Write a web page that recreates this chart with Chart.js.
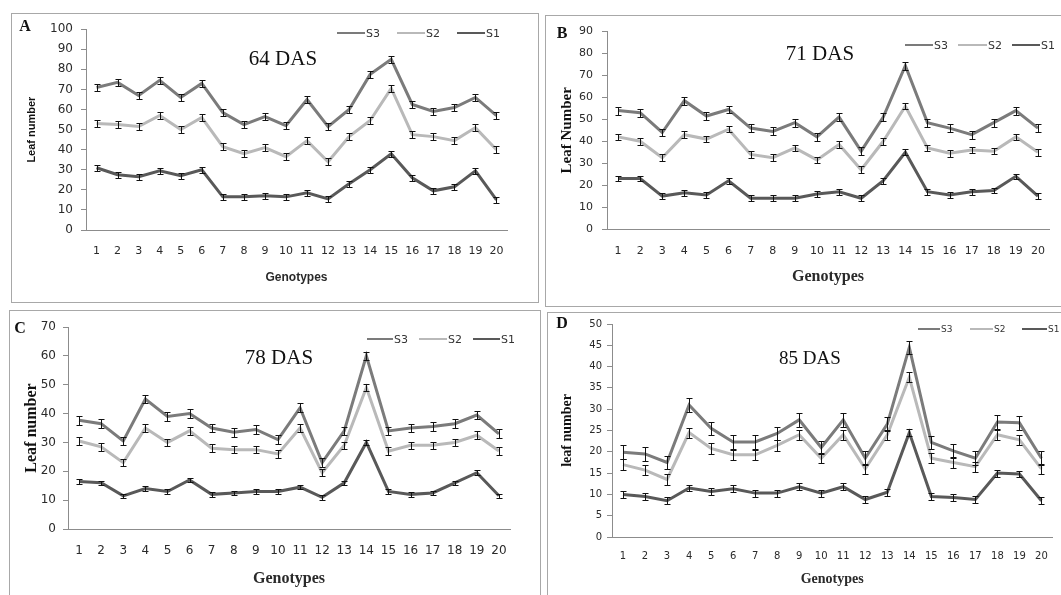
<!DOCTYPE html>
<html>
<head>
<meta charset="utf-8">
<script src="https://cdn.jsdelivr.net/npm/chart.js@4.4.1/dist/chart.umd.min.js"></script>
<style>
  body { margin: 0; width: 1061px; height: 595px; overflow: hidden; position: relative; background: #fff; }
  .frame { position: absolute; border: 1.5px solid #a8a8a8; box-sizing: border-box; }
  canvas.plot { position: absolute; }
  .letter { position: absolute; font: bold 16px "Liberation Serif", serif; color: #111; transform: translate(-50%, -50%); }
  .das { position: absolute; font: 21px "Liberation Serif", serif; color: #111; transform: translate(-50%, -50%); white-space: nowrap; }
  .lg-line { position: absolute; height: 2px; }
  .lg-text { position: absolute; font: 11px "DejaVu Sans", sans-serif; color: #333; transform: translateY(-50%); }
</style>
</head>
<body>
<script>
"use strict";

// ── Data ──────────────────────────────────────────────────────────────────────
const genotypes   = ["1","2","3","4","5","6","7","8","9","10","11","12","13","14","15","16","17","18","19","20"];
const seriesNames = ["S3", "S2", "S1"];

// A — 64 DAS
const das64S3  = [71, 73.5, 67, 74.5, 66, 73, 58.5, 52.5, 56.5, 52, 65, 51.5, 60, 77.5, 85, 62.5, 59, 61, 66, 57];
const das64S2  = [53, 52.5, 51.5, 57, 50, 56, 41.5, 38, 41, 36.5, 44.5, 34, 46.5, 54.5, 70.5, 47.5, 46.5, 44.5, 51, 40];
const das64S1  = [31, 27.5, 26.5, 29.5, 27, 30, 16.5, 16.5, 17, 16.5, 18.5, 15.5, 23, 30, 38, 26, 19.5, 21.5, 29.5, 15];
const das64Err = [1.8, 1.8, 1.4];

// B — 71 DAS
const das71S3  = [54, 53, 44, 58.5, 51.5, 54.5, 46, 44.5, 48.5, 42, 51, 35.5, 51, 74.5, 48.5, 46, 43, 48.5, 54, 46];
const das71S2  = [42, 40, 32.5, 43, 41, 45.5, 34, 32.5, 37, 31.5, 38.5, 27, 40, 56, 37, 34.5, 36, 35.5, 42, 35];
const das71S1  = [23, 23, 15, 16.5, 15.5, 22, 14, 14, 14, 16, 17, 14, 22, 35, 17, 15.5, 17, 17.5, 24, 15];
const das71Err = [1.8, 1.5, 1.3];

// C — 78 DAS
const das78S3  = [37.7, 36.5, 30.5, 45, 39, 40, 35, 33.5, 34.5, 31, 42, 23, 34, 60, 34, 35, 35.5, 36.5, 39.5, 33];
const das78S2  = [30.5, 28.5, 23, 35, 30, 34, 28, 27.5, 27.5, 26, 35, 19.5, 29, 49, 27, 29, 29, 30, 32.5, 27];
const das78S1  = [16.5, 16, 11.5, 14, 13, 17, 12, 12.5, 13, 13, 14.5, 11, 16, 30, 13, 12, 12.5, 16, 19.5, 11.5];
const das78Err = [1.5, 1.3, 0.8];

// D — 85 DAS
const das85S3  = [19.9, 19.5, 17.5, 31, 25.5, 22.3, 22.3, 24.3, 27.5, 21, 27.5, 18.5, 26.5, 44.5, 22.2, 20.2, 18.5, 27, 26.8, 18.5];
const das85S2  = [17, 15.7, 13.5, 24.5, 20.8, 19.3, 19.3, 21.5, 24, 18.5, 24, 16, 24, 37.5, 18.5, 17.5, 16.5, 24, 22.8, 16];
const das85S1  = [10, 9.5, 8.5, 11.5, 10.7, 11.3, 10.3, 10.3, 11.8, 10.3, 11.8, 8.8, 10.5, 24.5, 9.5, 9.3, 8.8, 15, 14.8, 8.5];
const das85Err = [1.6, 1.2, 0.8];

// ── Styles ────────────────────────────────────────────────────────────────────
const lineColors = ["#7b7b7b", "#b9b9b9", "#595959"];
const axisColor  = "#8c8c8c";
const textColor  = "#2a2a2a";

// ── Panel layout (page pixels) ────────────────────────────────────────────────
const panels = [
  {
    letter: "A", title: "64 DAS", series: [das64S3, das64S2, das64S1], err: das64Err,
    frame:  { l: 11, t: 13, w: 528, h: 290 },
    canvas: { l: 12, t: 14, w: 525, h: 287 },
    area:   { l: 86, t: 28, r: 507, b: 230 },
    yMax: 100, yStep: 10,
    yTitle: { text: "Leaf number", font: { family: "'Liberation Sans', sans-serif", size: 11, weight: "bold" }, pad: 13 },
    xTitle: { font: { family: "'Liberation Sans', sans-serif", size: 12, weight: "bold" }, pad: 16 },
    yTick: { size: 12, pad: 8 }, xTick: { size: 11, pad: 15 },
    letterPos: [25, 26], titlePos: [283, 58], titleSize: 21,
    legend: { y: 33, items: [[337, 365], [397, 425], [457, 485]], size: 11 },
  },
  {
    letter: "B", title: "71 DAS", series: [das71S3, das71S2, das71S1], err: das71Err,
    frame:  { l: 545, t: 15, w: 520, h: 292 },
    canvas: { l: 546, t: 16, w: 515, h: 289 },
    area:   { l: 607, t: 30, r: 1059, b: 229 },
    yMax: 90, yStep: 10,
    yTitle: { text: "Leaf Number", font: { family: "'Liberation Serif', serif", size: 15, weight: "bold" }, pad: 12 },
    xTitle: { font: { family: "'Liberation Serif', serif", size: 16, weight: "bold" }, pad: 19 },
    yTick: { size: 11, pad: 9 }, xTick: { size: 11, pad: 16 },
    letterPos: [562, 33], titlePos: [820, 53], titleSize: 21,
    legend: { y: 45, items: [[905, 933], [958, 987], [1012, 1040]], size: 11 },
  },
  {
    letter: "C", title: "78 DAS", series: [das78S3, das78S2, das78S1], err: das78Err,
    frame:  { l: 9, t: 310, w: 532, h: 290 },
    canvas: { l: 10, t: 311, w: 529, h: 284 },
    area:   { l: 68, t: 327, r: 510, b: 529 },
    yMax: 70, yStep: 10,
    yTitle: { text: "Leaf number", font: { family: "'Liberation Serif', serif", size: 16, weight: "bold" }, pad: 12 },
    xTitle: { font: { family: "'Liberation Serif', serif", size: 16, weight: "bold" }, pad: 7 },
    yTick: { size: 12, pad: 7 }, xTick: { size: 12, pad: 15 },
    letterPos: [20, 328], titlePos: [279, 357], titleSize: 21,
    legend: { y: 339, items: [[367, 393], [419, 447], [473, 500]], size: 11 },
  },
  {
    letter: "D", title: "85 DAS", series: [das85S3, das85S2, das85S1], err: das85Err,
    frame:  { l: 547, t: 312, w: 520, h: 290 },
    canvas: { l: 548, t: 313, w: 513, h: 282 },
    area:   { l: 612, t: 323, r: 1053, b: 537 },
    yMax: 50, yStep: 5,
    yTitle: { text: "leaf number", font: { family: "'Liberation Serif', serif", size: 14, weight: "bold" }, pad: 11 },
    xTitle: { font: { family: "'Liberation Serif', serif", size: 14, weight: "bold" }, pad: 7 },
    yTick: { size: 10, pad: 5 }, xTick: { size: 10, pad: 13 },
    letterPos: [562, 323], titlePos: [810, 358], titleSize: 19,
    legend: { y: 329, items: [[918, 940], [970, 993], [1022, 1047]], size: 9 },
  },
];

// ── Error bar plugin ──────────────────────────────────────────────────────────
const errorBars = {
  id: "errorBars",
  afterDatasetsDraw(chart, args, opts) {
    const { ctx } = chart;
    const y = chart.scales.y;
    ctx.save();
    ctx.strokeStyle = "#111";
    ctx.lineWidth = 1;
    chart.data.datasets.forEach((ds, i) => {
      const e = opts.err[i];
      chart.getDatasetMeta(i).data.forEach((pt, j) => {
        const v  = ds.data[j];
        const x  = Math.round(pt.x) + 0.5;
        const y1 = Math.round(y.getPixelForValue(v + e)) + 0.5;
        const y2 = Math.round(y.getPixelForValue(v - e)) + 0.5;
        ctx.beginPath();
        ctx.moveTo(x, y1); ctx.lineTo(x, y2);
        ctx.moveTo(x - 3, y1); ctx.lineTo(x + 3, y1);
        ctx.moveTo(x - 3, y2); ctx.lineTo(x + 3, y2);
        ctx.stroke();
      });
    });
    ctx.restore();
  },
};

// ── Build ─────────────────────────────────────────────────────────────────────
function addDiv(cls, css, text) {
  const d = document.createElement("div");
  d.className = cls;
  Object.assign(d.style, css);
  if (text !== undefined) d.textContent = text;
  document.body.appendChild(d);
  return d;
}

function buildPanel(p) {
  const f = p.frame, c = p.canvas, a = p.area;
  addDiv("frame", { left: f.l + "px", top: f.t + "px", width: f.w + "px", height: f.h + "px" });

  const cv = document.createElement("canvas");
  cv.className = "plot";
  cv.style.left = c.l + "px";
  cv.style.top  = c.t + "px";
  cv.style.width  = c.w + "px";
  cv.style.height = c.h + "px";
  document.body.appendChild(cv);

  const yWidth  = a.l - c.l;
  const xHeight = c.t + c.h - a.b;

  new Chart(cv, {
    type: "line",
    data: {
      labels: genotypes,
      datasets: p.series.map((vals, i) => ({
        label: seriesNames[i],
        data: vals,
        borderColor: lineColors[i],
        borderWidth: 3,
        pointRadius: 0,
        tension: 0,
      })),
    },
    options: {
      responsive: false,
      animation: false,
      devicePixelRatio: 1,
      layout: { padding: { left: 0, top: a.t - c.t, right: c.l + c.w - a.r, bottom: 0 } },
      plugins: {
        legend: { display: false },
        tooltip: { enabled: false },
        errorBars: { err: p.err },
      },
      scales: {
        x: {
          offset: true,
          grid: { display: false, drawTicks: false },
          border: { display: true, color: axisColor, width: 1 },
          ticks: { color: textColor, font: { family: "'DejaVu Sans', sans-serif", size: p.xTick.size }, padding: p.xTick.pad, maxRotation: 0, autoSkip: false },
          title: { display: true, text: "Genotypes", color: textColor, font: p.xTitle.font, padding: { top: 0, bottom: p.xTitle.pad } },
          afterFit: s => { s.height = xHeight; },
        },
        y: {
          min: 0, max: p.yMax,
          grid: { display: true, drawOnChartArea: false, drawTicks: true, tickLength: 5, color: axisColor },
          border: { display: true, color: axisColor, width: 1 },
          ticks: { stepSize: p.yStep, color: textColor, font: { family: "'DejaVu Sans', sans-serif", size: p.yTick.size }, padding: p.yTick.pad },
          title: { display: true, text: p.yTitle.text, color: "#111", font: p.yTitle.font, padding: { top: p.yTitle.pad, bottom: 0 } },
          afterFit: s => { s.width = yWidth; },
        },
      },
    },
    plugins: [errorBars],
  });

  addDiv("letter", { left: p.letterPos[0] + "px", top: p.letterPos[1] + "px" }, p.letter);
  addDiv("das", { left: p.titlePos[0] + "px", top: p.titlePos[1] + "px", fontSize: p.titleSize + "px" }, p.title);

  p.legend.items.forEach(([x1, x2], i) => {
    addDiv("lg-line", { left: x1 + "px", top: (p.legend.y - 1) + "px", width: (x2 - x1) + "px", background: lineColors[i] });
    addDiv("lg-text", { left: (x2 + 1) + "px", top: p.legend.y + "px", fontSize: p.legend.size + "px" }, seriesNames[i]);
  });
}

panels.forEach(buildPanel);
</script>
</body>
</html>
